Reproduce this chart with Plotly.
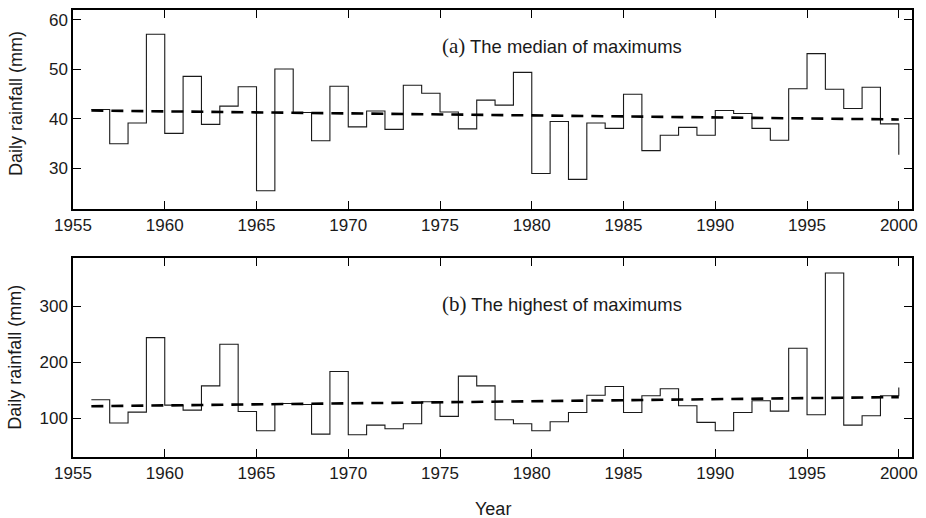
import plotly.graph_objects as go
from plotly.subplots import make_subplots

years = list(range(1956, 2001))
median_max = [41.9, 35.0, 39.2, 57.1, 37.1, 48.6, 38.9, 42.6, 46.5, 25.5,
              50.1, 41.3, 35.6, 46.6, 38.4, 41.6, 37.9, 46.8, 45.2, 41.4,
              38.0, 43.8, 42.8, 49.4, 29.0, 39.5, 27.8, 39.2, 38.1, 45.0,
              33.6, 36.7, 38.3, 36.7, 41.7, 41.1, 38.1, 35.7, 46.1, 53.2,
              46.0, 42.1, 46.4, 39.0, 32.8]
highest_max = [132.7, 91.1, 110.7, 244, 123.2, 114.3, 157.7, 232, 111.9, 77.4,
               126.2, 124.4, 71.4, 183.3, 70.2, 87.5, 81, 89.9, 129.2, 103,
               175, 157.7, 97, 89.9, 77.4, 93.5, 110.1, 141, 156.5, 110.1,
               139.9, 152.4, 122, 92.3, 77.4, 110.1, 131, 112.5, 225, 106,
               359.5, 87.5, 104.2, 139.9, 154.8]
trend_years = [1956, 2000]
trend_median = [41.7, 39.9]
trend_highest = [121.2, 137.6]

x_ticks = [1955, 1960, 1965, 1970, 1975, 1980, 1985, 1990, 1995, 2000]
y_ticks_a = [30, 40, 50, 60]
y_ticks_b = [100, 200, 300]

W, H = 926, 518
ml, mr, mt, mb = 73, 9, 8, 61
ph = H - mt - mb

fig = make_subplots(rows=2, cols=1, shared_xaxes=False, vertical_spacing=0.1)

for row, ys, tr in [(1, median_max, trend_median), (2, highest_max, trend_highest)]:
    fig.add_trace(go.Scatter(x=years, y=ys, mode="lines", line_shape="hv",
                             line=dict(color="#1a1a1a", width=1.1),
                             showlegend=False, hoverinfo="skip"), row=row, col=1)
    fig.add_trace(go.Scatter(x=trend_years, y=tr, mode="lines",
                             line=dict(color="black", width=2.6, dash="12px,8px"),
                             showlegend=False, hoverinfo="skip"), row=row, col=1)

font_sans = "Liberation Sans, Arial, sans-serif"
axis_common = dict(showline=True, linecolor="black", linewidth=1.5, mirror="ticks",
                   ticks="inside", ticklen=8, tickwidth=1, tickcolor="black",
                   showgrid=False, zeroline=False,
                   tickfont=dict(family=font_sans, size=17, color="#1a1a1a"))

top_dom = [1 - 200 / ph, 1]
bot_dom = [0, 199.5 / ph]

fig.update_layout(
    width=W, height=H,
    margin=dict(l=ml, r=mr, t=mt, b=mb),
    paper_bgcolor="white", plot_bgcolor="white",
    xaxis=dict(range=[1955, 2000.72], tickvals=x_ticks, domain=[0, 1], **axis_common),
    xaxis2=dict(range=[1955, 2000.72], tickvals=x_ticks, domain=[0, 1], **axis_common),
    yaxis=dict(range=[21.8, 62], tickvals=y_ticks_a, domain=top_dom, **axis_common),
    yaxis2=dict(range=[30.4, 385.7], tickvals=y_ticks_b, domain=bot_dom, **axis_common),
)

serif = "Liberation Serif, Times New Roman, serif"
fig.add_annotation(x=1975, y=54.7, xref="x", yref="y", xanchor="left", yanchor="middle",
                   showarrow=False,
                   text=f'<span style="font-family:{serif};font-size:21px">(a)</span> The median of maximums',
                   font=dict(family=font_sans, size=18.4, color="#1a1a1a"))
fig.add_annotation(x=1975, y=304.3, xref="x2", yref="y2", xanchor="left", yanchor="middle",
                   showarrow=False,
                   text=f'<span style="font-family:{serif};font-size:21px">(b)</span> The highest of maximums',
                   font=dict(family=font_sans, size=18.4, color="#1a1a1a"))

pw = W - ml - mr
def px_x(p):
    return (p - ml) / pw
def px_y(p):
    return (H - mb - p) / ph

for cy in [102, 357]:
    fig.add_annotation(x=px_x(15), y=px_y(cy), xref="paper", yref="paper",
                       xanchor="center", yanchor="middle", textangle=-90,
                       showarrow=False, text="Daily rainfall (mm)",
                       font=dict(family=font_sans, size=18, color="#1a1a1a"))

fig.add_annotation(x=px_x(495), y=px_y(509), xref="paper", yref="paper",
                   xanchor="center", yanchor="middle", showarrow=False, text="Year",
                   font=dict(family=font_sans, size=18, color="#1a1a1a"))

fig.write_html("out.html")
